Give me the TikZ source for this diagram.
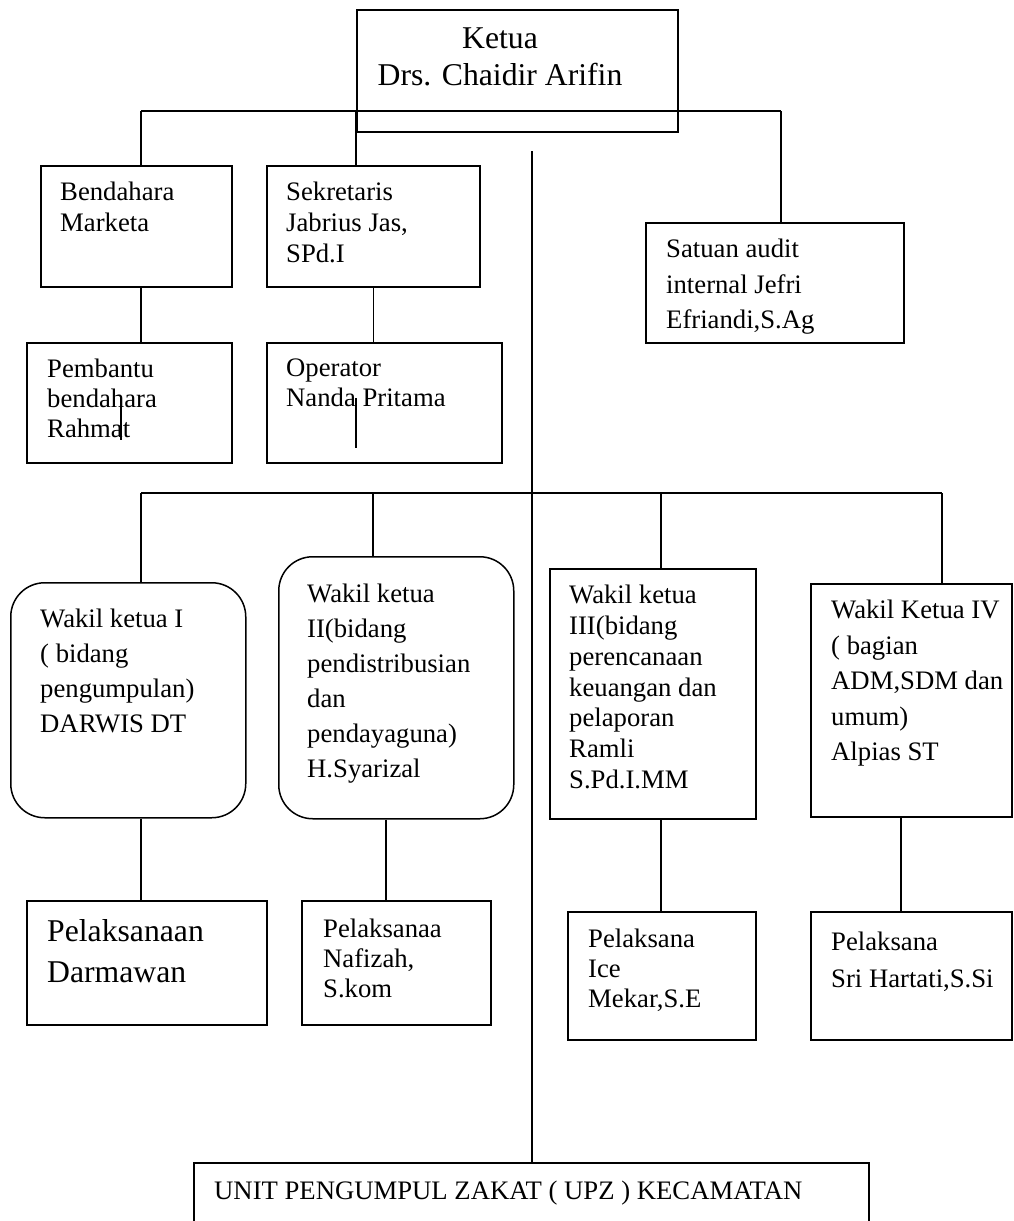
\documentclass[tikz,border=0pt]{standalone}
\usepackage{fontspec}
\setmainfont{Liberation Serif}
\tikzset{
 box/.style={draw, line width=1.5pt, inner sep=0pt, anchor=north west},
 rbox/.style={box, rounded corners=34pt},
 lbl/.style={anchor=north west, inner sep=0pt, align=left},
 barline/.style={line width=2.8pt},
 linkline/.style={line width=2.2pt},
 thinline/.style={line width=1.3pt}
}
\newcommand{\fsz}[2]{\fontsize{#1}{#2}\selectfont}

\begin{document}
\begin{tikzpicture}[x=1pt,y=-1pt]
\useasboundingbox (0,0) rectangle (1014,1221);
\clip (0,0) rectangle (1014,1221);

%Top part
\node[box, minimum width=321pt, minimum height=122pt] (ketua) at (356,9) {};
\node[box, minimum width=191pt, minimum height=121pt] (bend) at (40,165) {};
\node[box, minimum width=213pt, minimum height=121pt] (sekr) at (266,165) {};
\node[box, minimum width=258pt, minimum height=120pt] (audit) at (645,222) {};
\node[box, minimum width=205pt, minimum height=120pt] (pemb) at (26,342) {};
\node[box, minimum width=235pt, minimum height=120pt] (oper) at (266,342) {};

\node[lbl, anchor=north, align=center, font=\fsz{31.7}{37}] (ketuatxt) at (500,28) {Ketua\\Drs. Chaidir Arifin};
\node[lbl, font=\fsz{26.7}{31}] (bendtxt) at (60,182) {Bendahara\\Marketa};
\node[lbl, font=\fsz{26.7}{31}] (sekrtxt) at (286,182) {Sekretaris\\Jabrius Jas,\\SPd.I};
\node[lbl, font=\fsz{26.7}{35.5}] (audittxt) at (666,239) {Satuan audit\\internal Jefri\\Efriandi,S.Ag};
\node[lbl, font=\fsz{26.7}{30}] (pembtxt) at (47,359) {Pembantu\\bendahara\\Rahmat};
\node[lbl, font=\fsz{26.7}{30}] (opertxt) at (286,359) {Operator\\Nanda Pritama};

\coordinate (b1) at (141,111); \coordinate (b2) at (781,111);
\draw[barline] (b1) -- (b2);
\draw[linkline] (b1) -- (b1 |- bend.north); \draw[linkline] (ketua.west |- b1) -- (ketua.west |- sekr.north); \draw[linkline] (b2) -- (b2 |- audit.north);
\draw[linkline] (b1 |- bend.south) -- (b1 |- pemb.north); \draw[thinline] (sekr.south) -- (sekr.south |- oper.north);
\draw[line width=2pt] (121,398) -- (121,440); \draw[line width=2.5pt] (356,398) -- (356,448);

%Middle part
\node[rbox, minimum width=235pt, minimum height=235pt] (wk1) at (10,582) {};
\node[rbox, minimum width=235pt, minimum height=262pt] (wk2) at (278,556) {};
\node[box, minimum width=206pt, minimum height=250pt] (wk3) at (549,568) {};
\node[box, minimum width=201pt, minimum height=233pt] (wk4) at (810,583) {};

\node[lbl, font=\fsz{26.7}{35}] (wk1txt) at (40,609) {Wakil ketua I\\( bidang\\pengumpulan)\\DARWIS DT};
\node[lbl, font=\fsz{26.7}{35}] (wk2txt) at (307,584) {Wakil ketua\\II(bidang\\pendistribusian\\dan\\pendayaguna)\\H.Syarizal};
\node[lbl, font=\fsz{26.7}{30.8}] (wk3txt) at (569,585) {Wakil ketua\\III(bidang\\perencanaan\\keuangan dan\\pelaporan\\Ramli\\S.Pd.I.MM};
\node[lbl, font=\fsz{26.7}{35.5}] (wk4txt) at (831,600) {Wakil Ketua IV\\( bagian\\ADM,SDM dan\\umum)\\Alpias ST};

\coordinate (m1) at (141,493); \coordinate (m2) at (373,493); \coordinate (m3) at (661,493); \coordinate (m4) at (942,493);
\draw[linkline] (m1) -- (m4);
\draw[linkline] (m1) -- (m1 |- wk1.north); \draw[thinline] (m2) -- (m2 |- wk2.north); \draw[linkline] (m3) -- (m3 |- wk3.north); \draw[linkline] (m4) -- (m4 |- wk4.north);

%Bottom part
\node[box, minimum width=240pt, minimum height=124pt] (pl1) at (26,900) {};
\node[box, minimum width=189pt, minimum height=124pt] (pl2) at (301,900) {};
\node[box, minimum width=188pt, minimum height=128pt] (pl3) at (567,911) {};
\node[box, minimum width=201pt, minimum height=128pt] (pl4) at (810,911) {};
\node[box, minimum width=675pt, minimum height=100pt] (upz) at (193,1162) {};

\node[lbl, font=\fsz{31.7}{41}] (pl1txt) at (47,919) {Pelaksanaan\\Darmawan};
\node[lbl, font=\fsz{26.7}{30}] (pl2txt) at (323,919) {Pelaksanaa\\Nafizah,\\S.kom};
\node[lbl, font=\fsz{26.7}{30}] (pl3txt) at (588,929) {Pelaksana\\Ice\\Mekar,S.E};
\node[lbl, font=\fsz{26.7}{37}] (pl4txt) at (831,932) {Pelaksana\\Sri Hartati,S.Si};
\node[lbl, font=\fsz{26.7}{31}] (upztxt) at (214,1181) {UNIT PENGUMPUL ZAKAT ( UPZ ) KECAMATAN};

\coordinate (d2) at (386,0); \coordinate (d4) at (901,0);
\draw[thinline] (m1 |- wk1.south) -- (m1 |- pl1.north); \draw[thinline] (d2 |- wk2.south) -- (d2 |- pl2.north);
\draw[barline] (m3 |- wk3.south) -- (m3 |- pl3.north); \draw[thinline] (d4 |- wk4.south) -- (d4 |- pl4.north);

\coordinate (c1) at (532,151);
\draw[line width=1.2pt] (c1) -- (c1 |- upz.north);

\end{tikzpicture}
\end{document}
